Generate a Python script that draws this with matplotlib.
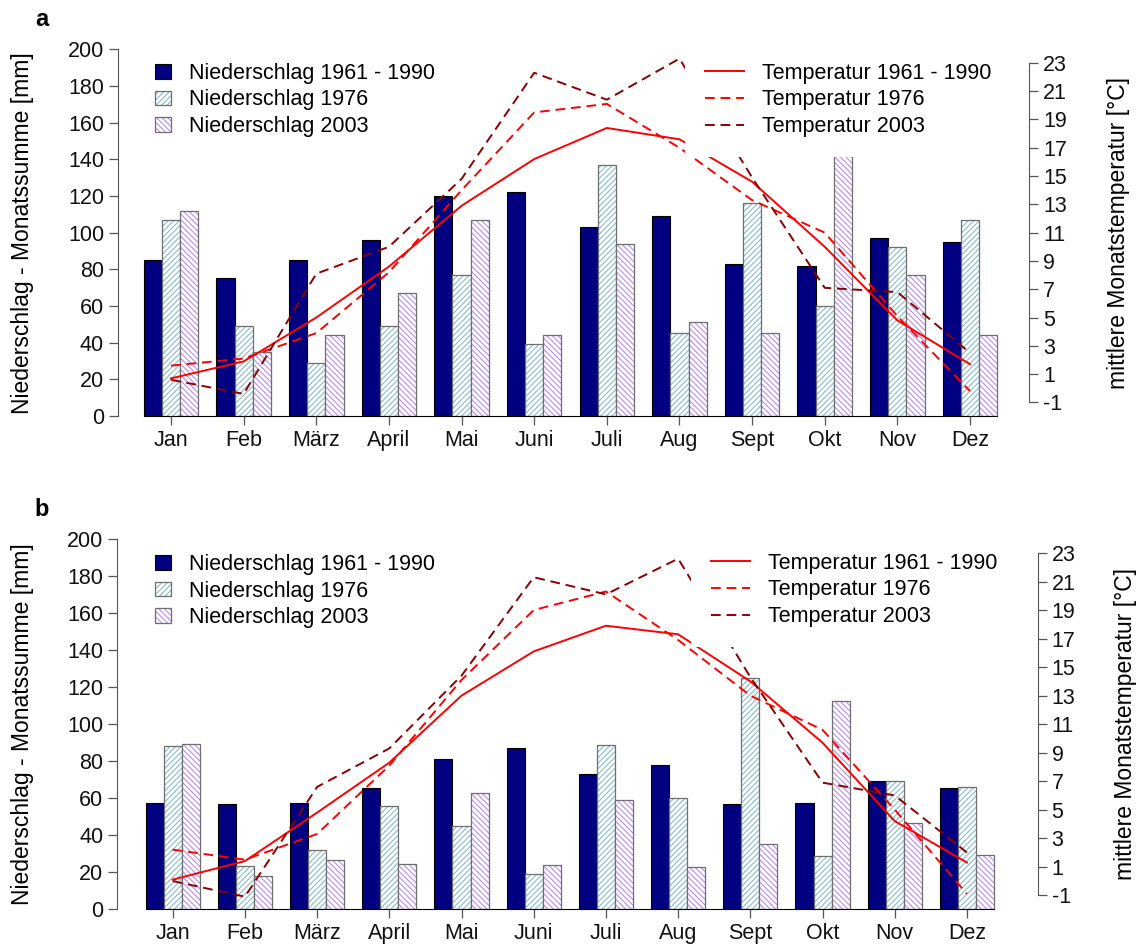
import matplotlib
matplotlib.use("Agg")
import matplotlib.pyplot as plt
import numpy as np
from matplotlib.lines import Line2D
from matplotlib.patches import Patch

plt.rcParams["font.family"] = ["Liberation Sans", "DejaVu Sans"]
plt.rcParams["hatch.linewidth"] = 0.8
plt.rcParams["axes.unicode_minus"] = False

# ---------------------------------------------------------------------------
# Data
# ---------------------------------------------------------------------------
months = ["Jan", "Feb", "März", "April", "Mai", "Juni",
          "Juli", "Aug", "Sept", "Okt", "Nov", "Dez"]

# panel a
prec_norm_a = [85, 75, 85, 96, 120, 122, 103, 109, 83, 82, 97, 95]
prec_1976_a = [107, 49, 29, 49, 77, 39, 137, 45, 116, 60, 92, 107]
prec_2003_a = [112, 35, 44, 67, 107, 44, 94, 51, 45, 160, 77, 44]
temp_norm_a = [0.7, 1.9, 5.0, 8.6, 12.9, 16.2, 18.4, 17.6, 14.6, 10.0, 4.8, 1.7]
temp_1976_a = [1.6, 2.1, 3.9, 8.2, 14.0, 19.5, 20.1, 17.0, 13.3, 11.0, 5.1, -0.2]
temp_2003_a = [0.6, -0.4, 8.1, 10.0, 14.8, 22.3, 20.4, 23.3, 14.9, 7.1, 6.8, 2.5]

# panel b
prec_norm_b = [57.6, 57, 57.6, 65.3, 81, 87, 73.3, 78, 56.8, 57.6, 69.3, 65.3]
prec_1976_b = [88, 23, 32, 55.8, 44.8, 19, 88.7, 59.8, 125, 28.8, 69.2, 66.2]
prec_2003_b = [89, 18, 26.6, 24.6, 63, 23.6, 58.8, 22.5, 34.9, 112.5, 46.7, 29.2]
temp_norm_b = [0.1, 1.4, 4.8, 8.3, 13.0, 16.1, 17.9, 17.3, 14.0, 9.7, 4.2, 1.3]
temp_1976_b = [2.2, 1.5, 3.3, 8.1, 14.1, 19.0, 20.3, 16.9, 13.0, 10.6, 5.0, -0.9]
temp_2003_b = [0.0, -1.1, 6.6, 9.3, 14.4, 21.3, 20.1, 22.6, 14.3, 6.9, 6.0, 2.0]

prec_labels = ["Niederschlag 1961 - 1990", "Niederschlag 1976", "Niederschlag 2003"]
temp_labels = ["Temperatur 1961 - 1990", "Temperatur 1976", "Temperatur 2003"]

# ---------------------------------------------------------------------------
# Styles
# ---------------------------------------------------------------------------
W, H = 1141, 944
FS = 15.5
LABEL_FS = 16.5
NAVY = "#000080"
HATCH_1976 = "#86bccc"
HATCH_2003 = "#b98cf0"
HATCH_A = "//////"
HATCH_B = "\\\\\\\\\\\\"
BAR_EDGE = "#6e6e6e"
AXIS_GRAY = "#555555"
RED = "#ff0000"
DARKRED = "#8b0000"
DASH = (5, 3)


def px_axes(box, x, y):
    """Pixel position in figure -> axes fraction for a box (l, t, r, b)."""
    l, t, r, b = box
    return (x - l) / (r - l), (b - y) / (b - t)


def draw_panel(fig, box, xlim, letter, prec, temps, leg_left, leg_right, rlabel_x):
    l, t, r, b = box
    ax = fig.add_axes([l / W, 1 - b / H, (r - l) / W, (b - t) / H])
    ax.set_xlim(*xlim)
    ax.set_ylim(0, 200)

    centers = 2.5 + 4 * np.arange(len(months))
    norm, y1976, y2003 = prec
    ax.bar(centers - 1, norm, width=1, color=NAVY, edgecolor="black", linewidth=0.8)
    ax.bar(centers, y1976, width=1, color="white", edgecolor=HATCH_1976,
           hatch=HATCH_A, linewidth=0)
    ax.bar(centers, y1976, width=1, fill=False, edgecolor=BAR_EDGE, linewidth=0.9)
    ax.bar(centers + 1, y2003, width=1, color="white", edgecolor=HATCH_2003,
           hatch=HATCH_B, linewidth=0)
    ax.bar(centers + 1, y2003, width=1, fill=False, edgecolor=BAR_EDGE, linewidth=0.9)

    for s in ("top", "right"):
        ax.spines[s].set_visible(False)
    ax.spines["left"].set_color(AXIS_GRAY)
    ax.spines["bottom"].set_color("black")
    ax.spines["bottom"].set_bounds(1, 4 * len(months))
    ax.set_yticks(np.arange(0, 201, 20))
    ax.set_xticks(centers)
    ax.set_xticklabels(months)
    ax.tick_params(axis="both", labelsize=FS, length=6.5, width=0.9,
                   color=AXIS_GRAY, labelcolor="#111111", pad=3.5)
    ax.set_ylabel("Niederschlag - Monatssumme [mm]", fontsize=LABEL_FS)
    ax.yaxis.set_label_coords(*px_axes(box, 34, (t + b) / 2))

    ax2 = ax.twinx()
    ax2.set_ylim(-1.96, 23.96)
    for s in ("top", "left", "bottom"):
        ax2.spines[s].set_visible(False)
    ax2.spines["right"].set_color(AXIS_GRAY)
    ax2.spines["right"].set_bounds(-1, 23)
    ax2.set_yticks(np.arange(-1, 24, 2))
    ax2.tick_params(axis="y", labelsize=FS, length=6.5, width=0.9,
                    color=AXIS_GRAY, labelcolor="#111111", pad=3.5)
    ax2.set_ylabel("mittlere Monatstemperatur [°C]", fontsize=LABEL_FS)
    ax2.yaxis.set_label_coords(*px_axes(box, rlabel_x, (t + b) / 2))

    tnorm, t1976, t2003 = temps
    ax2.plot(centers, tnorm, color=RED, lw=1.4)
    ax2.plot(centers, t1976, color=RED, lw=1.4, dashes=DASH)
    ax2.plot(centers, t2003, color=DARKRED, lw=1.4, dashes=DASH)

    common = dict(loc="center left", bbox_transform=ax2.transAxes, frameon=True,
                  facecolor="white", edgecolor="none", framealpha=1, fancybox=False,
                  borderaxespad=0, fontsize=FS, labelspacing=0.26, handletextpad=0.85,
                  borderpad=0.93)

    h_prec = [
        Patch(facecolor=NAVY, edgecolor="black", linewidth=0.8),
        (Patch(facecolor="white", edgecolor=HATCH_1976, hatch=HATCH_A, linewidth=0),
         Patch(fill=False, edgecolor=BAR_EDGE, linewidth=0.9)),
        (Patch(facecolor="white", edgecolor=HATCH_2003, hatch=HATCH_B, linewidth=0),
         Patch(fill=False, edgecolor=BAR_EDGE, linewidth=0.9)),
    ]
    leg1 = ax2.legend(h_prec, prec_labels, bbox_to_anchor=px_axes(box, *leg_left),
                      handlelength=0.75, handleheight=0.65, **common)
    ax2.add_artist(leg1)

    h_temp = [Line2D([], [], color=RED, lw=1.4),
              Line2D([], [], color=RED, lw=1.4, dashes=DASH),
              Line2D([], [], color=DARKRED, lw=1.4, dashes=DASH)]
    ax2.legend(h_temp, temp_labels, bbox_to_anchor=px_axes(box, *leg_right),
               handlelength=1.8, **common)

    fig.text(42 / W, 1 - (t - 30) / H, letter, fontsize=17, fontweight="bold",
             ha="center", va="center")
    return ax, ax2


fig = plt.figure(figsize=(W / 100, H / 100), dpi=100)

draw_panel(fig, (118, 49.3, 1029, 416), (-0.42, 49.75), "a",
           (prec_norm_a, prec_1976_a, prec_2003_a),
           (temp_norm_a, temp_1976_a, temp_2003_a),
           leg_left=(135, 100), leg_right=(685, 100), rlabel_x=1107)

draw_panel(fig, (117.3, 539.3, 1037.7, 909), (-0.57, 50.42), "b",
           (prec_norm_b, prec_1976_b, prec_2003_b),
           (temp_norm_b, temp_1976_b, temp_2003_b),
           leg_left=(135, 591), leg_right=(691, 590), rlabel_x=1114)

fig.savefig("out.png", dpi=100)
